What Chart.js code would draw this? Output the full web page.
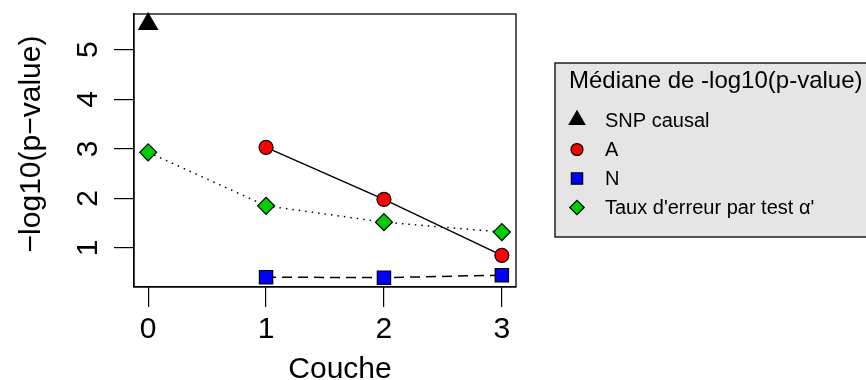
<!DOCTYPE html>
<html>
<head>
<meta charset="utf-8">
<script src="https://cdn.jsdelivr.net/npm/chart.js@4.4.0/dist/chart.umd.min.js"></script>
<style>
  html, body { margin: 0; padding: 0; background: #fff; }
  #wrap { width: 866px; height: 380px; position: relative; }
</style>
</head>
<body>
<div id="wrap"><canvas id="myChart"></canvas></div>
<script>
// data
const layers = [0, 1, 2, 3];
const snpCausal = [5.52, null, null, null];
const seriesA = [null, 3.03, 1.98, 0.85];
const seriesN = [null, 0.41, 0.40, 0.45];
const seriesAlpha = [2.93, 1.85, 1.52, 1.32];
const xTicks = [0, 1, 2, 3];
const yTicks = [1, 2, 3, 4, 5];
const legendTitle = 'Médiane de -log10(p-value)';
const xTitle = 'Couche';
const yTitle = '\u2212log10(p\u2212value)';

const FONT = '"Liberation Sans", Arial, Helvetica, sans-serif';
const toPoints = arr => layers.map((x, i) => ({ x: x, y: arr[i] }));

// R-like axis labels, frame and legend box
const rStyle = {
  id: 'rStyle',
  afterDraw(chart) {
    const ctx = chart.ctx;
    const a = chart.chartArea;
    const xs = chart.scales.x, ys = chart.scales.y;
    ctx.save();

    // box round the plot
    ctx.strokeStyle = '#000';
    ctx.lineWidth = 1.3;
    ctx.strokeRect(a.left, a.top, a.right - a.left, a.bottom - a.top);

    ctx.fillStyle = '#000';
    ctx.font = '30px ' + FONT;

    // x tick labels
    ctx.textAlign = 'center';
    ctx.textBaseline = 'alphabetic';
    xs.ticks.forEach(t => ctx.fillText(String(t.value), xs.getPixelForValue(t.value), 338));

    // y tick labels, turned like R's las=0
    ys.ticks.forEach(t => {
      ctx.save();
      ctx.translate(97, ys.getPixelForValue(t.value));
      ctx.rotate(-Math.PI / 2);
      ctx.fillText(String(t.value), 0, 0);
      ctx.restore();
    });

    // axis titles
    ctx.fillText(xTitle, 340, 378);
    ctx.save();
    ctx.translate(40, 144);
    ctx.rotate(-Math.PI / 2);
    ctx.fillText(yTitle, 0, 0);
    ctx.restore();

    // legend
    const lx = 555, ly = 63, lw = 330, lh = 174;
    ctx.fillStyle = '#e5e5e5';
    ctx.fillRect(lx, ly, lw, lh);
    ctx.strokeStyle = '#000';
    ctx.lineWidth = 1.3;
    ctx.strokeRect(lx, ly, lw, lh);

    ctx.fillStyle = '#000';
    ctx.textAlign = 'left';
    ctx.textBaseline = 'middle';
    ctx.font = '24px ' + FONT;
    ctx.fillText(legendTitle, 569, 81);

    ctx.font = '20px ' + FONT;
    const rowY = [120, 149.5, 178.5, 207.5];
    chart.data.datasets.forEach((ds, i) => {
      ctx.fillStyle = ds.pointBackgroundColor;
      ctx.strokeStyle = ds.pointBorderColor;
      ctx.lineWidth = ds.pointBorderWidth;
      Chart.helpers.drawPoint(ctx, {
        pointStyle: ds.pointStyle,
        radius: ds.pointRadius * 0.85,
        rotation: 0,
        borderWidth: ds.pointBorderWidth
      }, 577, rowY[i]);
      ctx.fillStyle = '#000';
      ctx.fillText(ds.label, 605, rowY[i] + 1);
    });

    ctx.restore();
  }
};

const ctx = document.getElementById('myChart').getContext('2d');

const chart = new Chart(ctx, {
  type: 'line',
  data: {
    datasets: [
      {
        label: 'SNP causal',
        data: toPoints(snpCausal),
        showLine: false,
        pointStyle: 'triangle',
        pointRadius: 12,
        pointBackgroundColor: '#000',
        pointBorderColor: '#000',
        pointBorderWidth: 0,
        clip: false
      },
      {
        label: 'A',
        data: toPoints(seriesA),
        borderColor: '#000',
        borderWidth: 1.5,
        pointStyle: 'circle',
        pointRadius: 7,
        pointBackgroundColor: '#ff0000',
        pointBorderColor: '#000',
        pointBorderWidth: 1.2,
        clip: false
      },
      {
        label: 'N',
        data: toPoints(seriesN),
        borderColor: '#000',
        borderWidth: 1.5,
        borderDash: [10, 6],
        pointStyle: 'rect',
        pointRadius: 9.4,
        pointBackgroundColor: '#0000ff',
        pointBorderColor: '#000',
        pointBorderWidth: 1.2,
        clip: false
      },
      {
        label: "Taux d'erreur par test \u03b1'",
        data: toPoints(seriesAlpha),
        borderColor: '#000',
        borderWidth: 1.5,
        borderDash: [1.5, 5],
        pointStyle: 'rectRot',
        pointRadius: 8.5,
        pointBackgroundColor: '#00cd00',
        pointBorderColor: '#000',
        pointBorderWidth: 1.2,
        clip: false
      }
    ]
  },
  options: {
    responsive: true,
    maintainAspectRatio: false,
    devicePixelRatio: 1,
    animation: false,
    events: [],
    layout: { padding: { top: 14, right: 350, left: 0, bottom: 0 } },
    plugins: { legend: { display: false }, tooltip: { enabled: false } },
    elements: { line: { tension: 0, fill: false } },
    scales: {
      x: {
        type: 'linear',
        min: -0.12,
        max: 3.12,
        afterBuildTicks: s => { s.ticks = xTicks.map(v => ({ value: v })); },
        afterFit: s => { s.height = 93; },
        grid: { drawOnChartArea: false, drawTicks: true, tickLength: 20, color: '#000', lineWidth: 1.2 },
        border: { display: true, color: '#000', width: 1.3 },
        ticks: { display: false }
      },
      y: {
        type: 'linear',
        min: 0.211,
        max: 5.722,
        afterBuildTicks: s => { s.ticks = yTicks.map(v => ({ value: v })); },
        afterFit: s => { s.width = 134; },
        grid: { drawOnChartArea: false, drawTicks: true, tickLength: 20, color: '#000', lineWidth: 1.2 },
        border: { display: true, color: '#000', width: 1.3 },
        ticks: { display: false }
      }
    }
  },
  plugins: [rStyle]
});
</script>
</body>
</html>
